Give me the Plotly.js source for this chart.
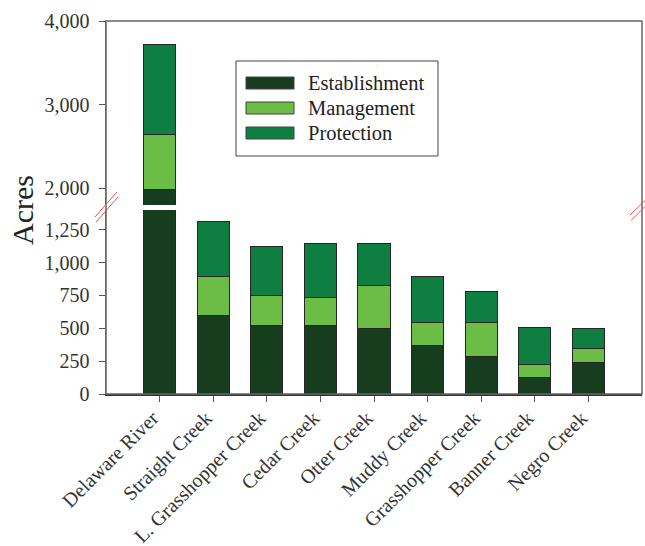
<!DOCTYPE html>
<html><head><meta charset="utf-8">
<script src="https://cdn.plot.ly/plotly-3.0.1.min.js"></script>
<style>html,body{margin:0;padding:0;background:#fff}#c{width:645px;height:546px}</style>
</head><body><div id="c"></div>
<script>
var categories = ["Delaware River","Straight Creek","L. Grasshopper Creek","Cedar Creek","Otter Creek","Muddy Creek","Grasshopper Creek","Banner Creek","Negro Creek"];
var seriesNames = ["Establishment","Management","Protection"];
var establishment = [1990, 595, 519, 519, 501, 367, 289, 126, 243];
var management = [656, 296, 228, 215, 322, 180, 255, 102, 107];
var protection = [1068, 418, 375, 413, 322, 345, 236, 281, 146];
var lowerTicks = [0, 250, 500, 750, 1000, 1250];
var upperTicks = [2000, 3000, 4000];
var colors = ["#163d1e", "#6bbd46", "#0e7f40"];

var W = 645, H = 546, L = 106, R = 3, T = 21, B = 152;
var pw = W - L - R, ph = H - T - B;
function px(x){ return (x - L) / pw; }
function py(y){ return (H - B - y) / ph; }

var values = [establishment, management, protection];
var traces = [];
["y", "y2"].forEach(function(ax){
  values.forEach(function(v, i){
    traces.push({
      type: "bar", x: categories, y: v, name: seriesNames[i], yaxis: ax,
      width: 0.6, showlegend: false, hoverinfo: "skip",
      marker: {color: colors[i], line: {color: "#262626", width: 1}}
    });
  });
});

var fontFam = "Liberation Serif, DejaVu Serif, serif";
var shapes = [
  {type: "rect", xref: "paper", yref: "paper", x0: 0, x1: 1, y0: 0, y1: 1, line: {color: "#666", width: 1.5}, layer: "above"},
  {type: "line", xref: "paper", yref: "paper", x0: px(95), y0: py(217), x1: px(117), y1: py(192), line: {color: "#e85555", width: 1}},
  {type: "line", xref: "paper", yref: "paper", x0: px(96), y0: py(222), x1: px(118), y1: py(197), line: {color: "#e85555", width: 1}},
  {type: "line", xref: "paper", yref: "paper", x0: px(630), y0: py(215), x1: px(645), y1: py(200.5), line: {color: "#e85555", width: 1}},
  {type: "line", xref: "paper", yref: "paper", x0: px(631), y0: py(220.5), x1: px(645), y1: py(206.5), line: {color: "#e85555", width: 1}},
  {type: "rect", xref: "paper", yref: "paper", x0: px(236), x1: px(438), y0: py(156), y1: py(61), line: {color: "#444", width: 1}, fillcolor: "#fff"}
];
var annotations = [
  {text: "Acres", xref: "paper", yref: "paper", x: px(22), y: py(210), textangle: -90, showarrow: false,
   font: {family: fontFam, size: 30, color: "#222"}, xanchor: "center", yanchor: "middle"}
];
var rowY = [83, 108, 133];
seriesNames.forEach(function(n, i){
  shapes.push({type: "rect", xref: "paper", yref: "paper", x0: px(246), x1: px(294), y0: py(rowY[i] + 6), y1: py(rowY[i] - 6),
    fillcolor: colors[i], line: {color: "#444", width: 1}});
  annotations.push({text: n, xref: "paper", yref: "paper", x: px(306), y: py(rowY[i]), xanchor: "left", yanchor: "middle",
    showarrow: false, font: {family: fontFam, size: 20.5, color: "#222"}});
});

var lowTop = (H - B - 210) / ph, upBot = (H - B - 205) / ph;
var layout = {
  width: W, height: H, margin: {l: L, r: R, t: T, b: B},
  paper_bgcolor: "#fff", plot_bgcolor: "#fff",
  barmode: "stack", showlegend: false,
  font: {family: fontFam, size: 20, color: "#333"},
  xaxis: {type: "category", range: [-1, 9], tickangle: -45, ticks: "outside", ticklen: 6, tickcolor: "#555",
          showline: true, linecolor: "#333", linewidth: 1.5, showgrid: false, zeroline: false, anchor: "y",
          ticklabelshift: -7, ticklabelstandoff: -3,
          tickfont: {family: fontFam, size: 20, color: "#333"}},
  yaxis: {domain: [0, lowTop], range: [0, 1400], tickvals: lowerTicks, tickformat: ",d", ticks: "outside", ticklen: 6,
          tickcolor: "#555", showline: true, linecolor: "#666", linewidth: 1.5, showgrid: false, zeroline: false,
          ticklabelstandoff: 5, tickfont: {family: fontFam, size: 20, color: "#333"}},
  yaxis2: {domain: [upBot, 1], range: [1800, 4000], tickvals: upperTicks, tickformat: ",d", ticks: "outside", ticklen: 6,
          tickcolor: "#555", showline: true, linecolor: "#666", linewidth: 1.5, showgrid: false, zeroline: false,
          anchor: "x", ticklabelstandoff: 5, tickfont: {family: fontFam, size: 20, color: "#333"}},
  shapes: shapes, annotations: annotations
};
Plotly.newPlot("c", traces, layout, {displayModeBar: false, staticPlot: true});
</script></body></html>
